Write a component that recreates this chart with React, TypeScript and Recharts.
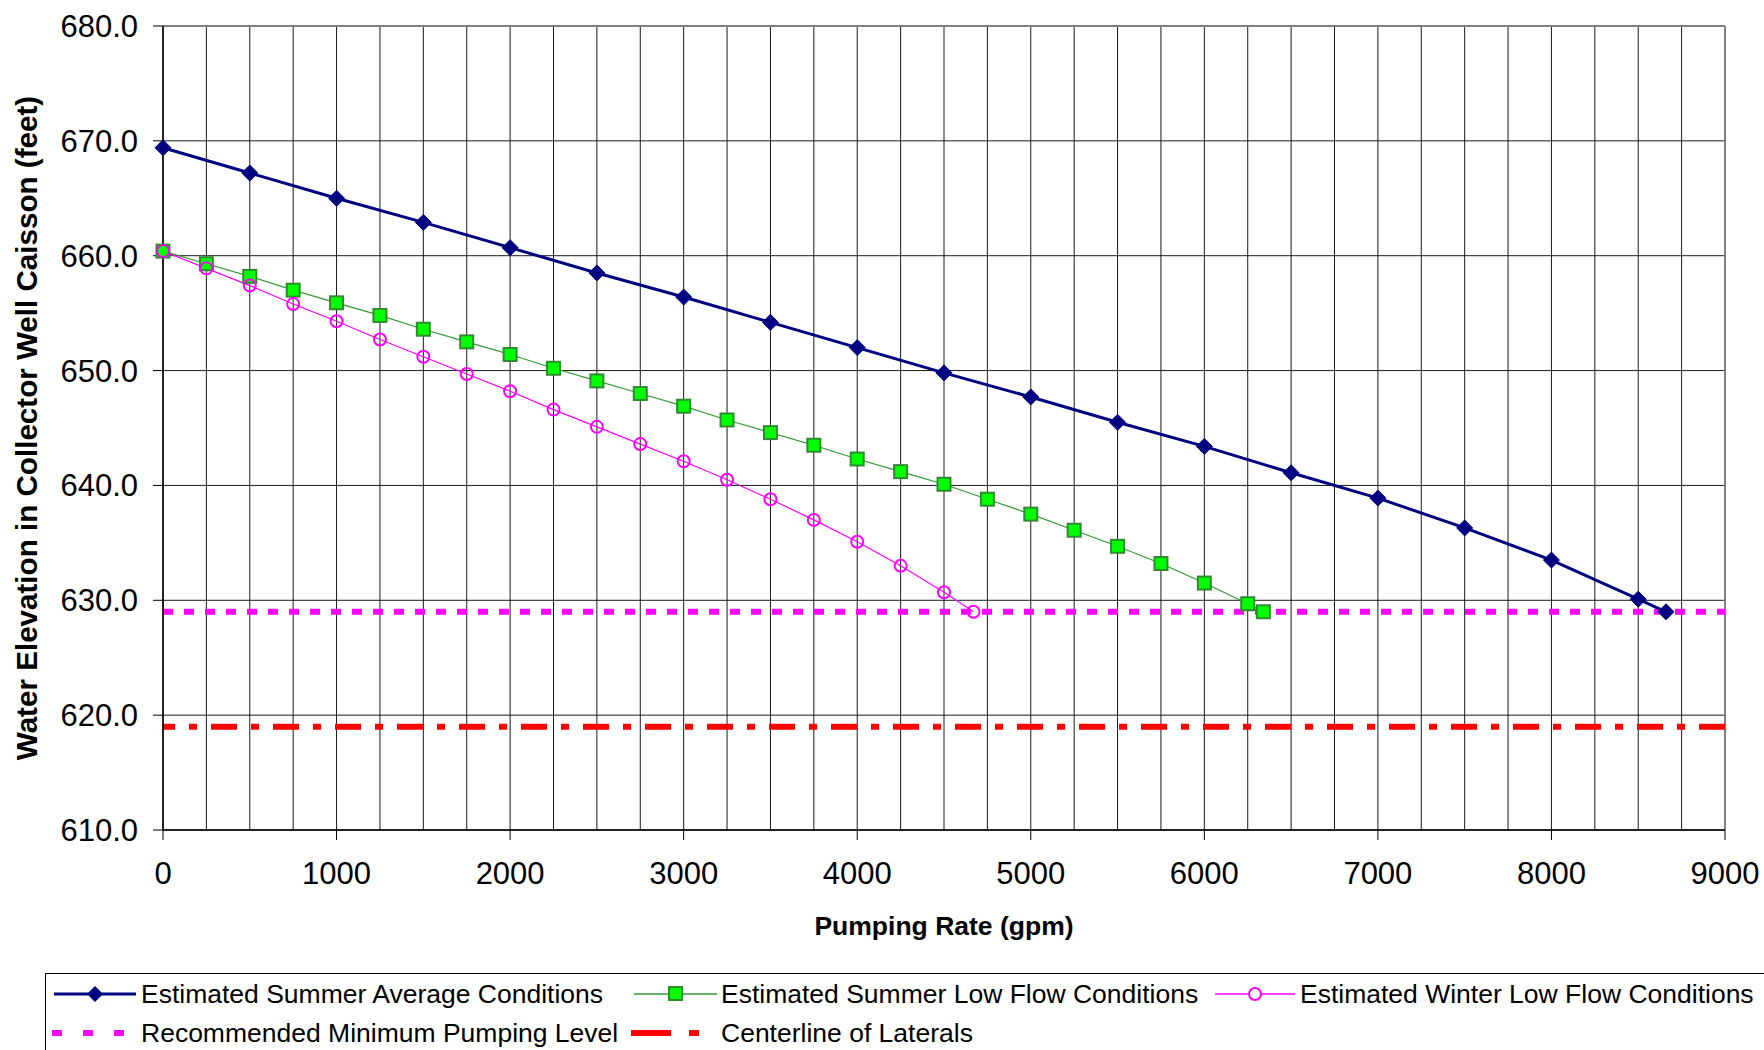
import React from 'react';
import { LineChart, Line, XAxis, YAxis, CartesianGrid, ReferenceLine, Legend } from 'recharts';

// pumping rate (gpm) and water elevation (feet) for each scenario
const summerAvgRate = [0, 500, 1000, 1500, 2000, 2500, 3000, 3500, 4000, 4500, 5000, 5500, 6000, 6500, 7000, 7500, 8000, 8500, 8660];
const summerAvgLevel = [669.4, 667.2, 665.0, 662.9, 660.7, 658.5, 656.4, 654.2, 652.0, 649.8, 647.7, 645.5, 643.4, 641.1, 638.9, 636.3, 633.5, 630.1, 629.0];

const summerLowRate = [0, 250, 500, 750, 1000, 1250, 1500, 1750, 2000, 2250, 2500, 2750, 3000, 3250, 3500, 3750, 4000, 4250, 4500, 4750, 5000, 5250, 5500, 5750, 6000, 6250, 6340];
const summerLowLevel = [660.4, 659.3, 658.2, 657.0, 655.9, 654.8, 653.6, 652.5, 651.4, 650.2, 649.1, 648.0, 646.9, 645.7, 644.6, 643.5, 642.3, 641.2, 640.1, 638.8, 637.5, 636.1, 634.7, 633.2, 631.5, 629.7, 629.0];

const winterLowRate = [0, 250, 500, 750, 1000, 1250, 1500, 1750, 2000, 2250, 2500, 2750, 3000, 3250, 3500, 3750, 4000, 4250, 4500, 4670];
const winterLowLevel = [660.4, 658.9, 657.4, 655.8, 654.3, 652.7, 651.2, 649.7, 648.2, 646.6, 645.1, 643.6, 642.1, 640.5, 638.8, 637.0, 635.1, 633.0, 630.7, 629.0];

const minPumpingLevel = 629.0;
const lateralsCenterline = 619.0;

const xTicks = [0, 1000, 2000, 3000, 4000, 5000, 6000, 7000, 8000, 9000];
const xGridValues = [0, 250, 500, 750, 1000, 1250, 1500, 1750, 2000, 2250, 2500, 2750, 3000, 3250, 3500, 3750, 4000, 4250, 4500, 4750, 5000, 5250, 5500, 5750, 6000, 6250, 6500, 6750, 7000, 7250, 7500, 7750, 8000, 8250, 8500, 8750, 9000];
const yTicks = [610, 620, 630, 640, 650, 660, 670, 680];

const toPoints = (rates: number[], levels: number[]) => rates.map((rate, i) => ({ rate, level: levels[i] }));

const FONT = '"Liberation Sans", Arial, sans-serif';

const Diamond = (props: any) => {
  const { cx, cy, index } = props;
  const r = 8;
  return <polygon key={`dia-${index}`} points={`${cx},${cy - r} ${cx + r},${cy} ${cx},${cy + r} ${cx - r},${cy}`} fill="#000080" stroke="#000080" />;
};

const Square = (props: any) => {
  const { cx, cy, index } = props;
  return <rect key={`sq-${index}`} x={cx - 6.5} y={cy - 6.5} width={13} height={13} fill="#00ff00" stroke="#2e8b2e" strokeWidth={2} />;
};

const Ring = (props: any) => {
  const { cx, cy, index } = props;
  return <circle key={`ring-${index}`} cx={cx} cy={cy} r={6} fill="none" stroke="#ff00ff" strokeWidth={2} />;
};

const LegendBox = () => {
  const text = { position: 'absolute' as const, fontSize: 26.5, lineHeight: '30px', color: '#000', whiteSpace: 'nowrap' as const };
  return (
    <div style={{ position: 'relative', width: 1740, height: 110, border: '1px solid #000', background: '#fff', fontFamily: FONT }}>
      <svg width={1740} height={110} style={{ position: 'absolute', left: 0, top: 0 }}>
        <line x1={8} x2={90} y1={20} y2={20} stroke="#000080" strokeWidth={3} />
        <polygon points="49,12 57,20 49,28 41,20" fill="#000080" />
        <line x1={588} x2={671} y1={20} y2={20} stroke="#339933" strokeWidth={1.5} />
        <rect x={623} y={13} width={13} height={13} fill="#00ff00" stroke="#2e8b2e" strokeWidth={2} />
        <line x1={1169} x2={1249} y1={20} y2={20} stroke="#ff00ff" strokeWidth={1.5} />
        <circle cx={1209} cy={20} r={6} fill="#fff" stroke="#ff00ff" strokeWidth={2} />
        <line x1={6} x2={80} y1={59} y2={59} stroke="#ff00ff" strokeWidth={6} strokeDasharray="10 21" />
        <line x1={585} x2={653} y1={59} y2={59} stroke="#ff0000" strokeWidth={6} strokeDasharray="40 18 10 100" />
      </svg>
      <span style={{ ...text, left: 95, top: 5 }}>Estimated Summer Average Conditions</span>
      <span style={{ ...text, left: 675, top: 5 }}>Estimated Summer Low Flow Conditions</span>
      <span style={{ ...text, left: 1254, top: 5 }}>Estimated Winter Low Flow Conditions</span>
      <span style={{ ...text, left: 95, top: 44 }}>Recommended Minimum Pumping Level</span>
      <span style={{ ...text, left: 675, top: 44 }}>Centerline of Laterals</span>
    </div>
  );
};

export default function App() {
  return (
    <div style={{ position: 'absolute', left: 0, top: 0, width: 1764, height: 1050, overflow: 'hidden', background: '#fff' }}>
      <LineChart width={1764} height={1050} margin={{ top: 26, right: 39, bottom: 100, left: 0 }}>
        <CartesianGrid stroke="#1a1a1a" strokeWidth={1} verticalValues={xGridValues} />
        <XAxis
          dataKey="rate"
          type="number"
          domain={[0, 9000]}
          ticks={xTicks}
          allowDuplicatedCategory={false}
          height={120}
          tickSize={10}
          tickMargin={22}
          axisLine={{ stroke: '#000', strokeWidth: 1.5 }}
          tickLine={{ stroke: '#000' }}
          tick={{ fill: '#000', fontSize: 31, fontFamily: FONT }}
          label={{
            content: ({ viewBox }: any) => (
              <text x={viewBox.x + viewBox.width / 2} y={926} textAnchor="middle" dominantBaseline="central" fontFamily={FONT} fontWeight="bold" fontSize={26.5} fill="#000">
                Pumping Rate (gpm)
              </text>
            ),
          }}
        />
        <YAxis
          type="number"
          domain={[610, 680]}
          ticks={yTicks}
          width={163}
          tickSize={10}
          tickMargin={15}
          axisLine={{ stroke: '#000', strokeWidth: 1.5 }}
          tickLine={{ stroke: '#000' }}
          tickFormatter={(v: number) => v.toFixed(1)}
          tick={{ fill: '#000', fontSize: 31, fontFamily: FONT }}
          label={{
            content: ({ viewBox }: any) => {
              const cx = 26;
              const cy = viewBox.y + viewBox.height / 2;
              return (
                <text x={cx} y={cy} transform={`rotate(-90 ${cx} ${cy})`} textAnchor="middle" dominantBaseline="central" fontFamily={FONT} fontWeight="bold" fontSize={29.6} fill="#000">
                  Water Elevation in Collector Well Caisson (feet)
                </text>
              );
            },
          }}
        />
        <ReferenceLine y={680} stroke="#808080" strokeWidth={2} />
        <ReferenceLine x={9000} stroke="#808080" strokeWidth={2} />
        <ReferenceLine y={minPumpingLevel} stroke="#ff00ff" strokeWidth={6} strokeDasharray="10 11" />
        <ReferenceLine y={lateralsCenterline} stroke="#ff0000" strokeWidth={6} strokeDasharray="26 14 8 14" strokeDashoffset={14} />
        <Line
          data={toPoints(summerAvgRate, summerAvgLevel)}
          dataKey="level"
          name="Estimated Summer Average Conditions"
          stroke="#000080"
          strokeWidth={3}
          dot={Diamond}
          activeDot={false}
          isAnimationActive={false}
        />
        <Line
          data={toPoints(summerLowRate, summerLowLevel)}
          dataKey="level"
          name="Estimated Summer Low Flow Conditions"
          stroke="#339933"
          strokeWidth={1.2}
          dot={Square}
          activeDot={false}
          isAnimationActive={false}
        />
        <Line
          data={toPoints(winterLowRate, winterLowLevel)}
          dataKey="level"
          name="Estimated Winter Low Flow Conditions"
          stroke="#ff00ff"
          strokeWidth={1.2}
          dot={Ring}
          activeDot={false}
          isAnimationActive={false}
        />
        <Legend
          layout="horizontal"
          verticalAlign="middle"
          align="center"
          wrapperStyle={{ top: 973, left: 45, width: 1742, height: 112 }}
          content={() => <LegendBox />}
        />
      </LineChart>
    </div>
  );
}
